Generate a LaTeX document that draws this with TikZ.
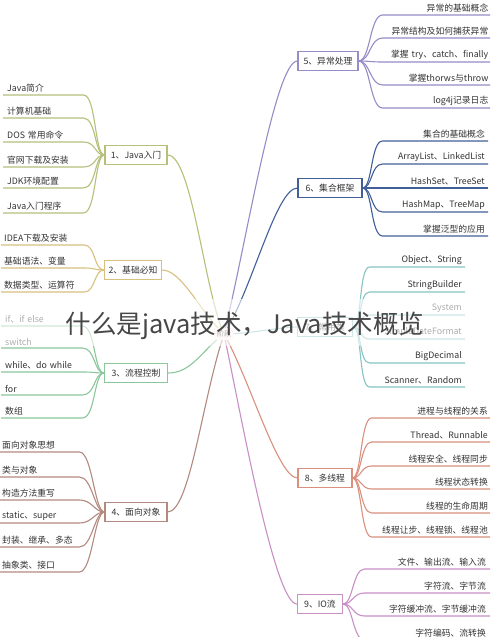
\documentclass[tikz,border=0pt]{standalone}
\usepackage{fontspec}
\setmainfont{Noto Sans CJK SC}
\definecolor{cA}{HTML}{B5C07A}
\definecolor{cB}{HTML}{D8C07E}
\definecolor{cC}{HTML}{8CC79B}
\definecolor{cD}{HTML}{B48A80}
\definecolor{cE}{HTML}{968CC8}
\definecolor{cF}{HTML}{41609A}
\definecolor{cG}{HTML}{88C4C4}
\definecolor{cH}{HTML}{D9907E}
\definecolor{cI}{HTML}{C890C4}
\definecolor{txt}{HTML}{333333}
\begin{document}
\begin{tikzpicture}[x=1pt,y=-1pt,
  every node/.style={font=\fontsize{8.8}{10}\selectfont, text=txt},
  mainbox/.style={draw, line width=1.2pt, fill=white, minimum height=19pt, inner xsep=4pt},
  leafL/.style={anchor=south west, align=left, inner xsep=4pt, inner ysep=2.5pt},
  leafR/.style={anchor=south east, align=right, inner xsep=4pt, inner ysep=2.5pt},
  br/.style={line width=1.1pt}]
\useasboundingbox (0,0) rectangle (490,637);
\fill[white] (0,0) rectangle (490,637);

\coordinate (hub) at (224,334);

% main nodes
\node[mainbox, draw=cA, minimum width=62pt] (n1) at (136,155) {1、Java入门};
\node[mainbox, draw=cB, minimum width=55pt] (n2) at (133,270) {2、基础必知};
\node[mainbox, draw=cC, minimum width=63pt] (n3) at (136,373) {3、流程控制};
\node[mainbox, draw=cD, minimum width=62pt] (n4) at (136,512) {4、面向对象};
\node[mainbox, draw=cE, minimum width=60pt] (n5) at (328,61) {5、异常处理};
\node[mainbox, draw=cF, minimum width=64pt] (n6) at (330,188) {6、集合框架};
\node[mainbox, draw=cG, minimum width=55pt] (n7) at (325,327) {7、常用类};
\node[mainbox, draw=cH, minimum width=54pt] (n8) at (325,478) {8、多线程};
\node[mainbox, draw=cI, minimum width=45pt] (n9) at (320,604) {9、IO流};

% hub connectors
\draw[br, cA] (n1.east) .. controls (192,155) and (204,290) .. (hub);
\draw[br, cB] (n2.east) .. controls (182,270) and (200,312) .. (hub);
\draw[br, cC] (n3.east) .. controls (192,373) and (202,350) .. (hub);
\draw[br, cD] (n4.east) .. controls (190,512) and (202,400) .. (hub);
\draw[br, cE] (n5.west) .. controls (275,61) and (245,250) .. (hub);
\draw[br, cF] (n6.west) .. controls (276,188) and (252,290) .. (hub);
\draw[br, cG] (n7.west) .. controls (280,327) and (250,334) .. (hub);
\draw[br, cH] (n8.west) .. controls (278,478) and (250,380) .. (hub);
\draw[br, cI] (n9.west) .. controls (275,604) and (242,420) .. (hub);

% group 1
\foreach \y/\t [count=\i] in {95/Java简介,118/计算机基础,142/DOS 常用命令,167/官网下载及安装,188/JDK环境配置,213/Java入门程序}{
  \node[leafL, text width=72pt] (a\i) at (3,\y) {\t};
  \draw[br, cA] (a\i.south west) -- (a\i.south east) .. controls +(13,0) and +(-10,0) .. (n1.west);
}
% group 2
\foreach \y/\t [count=\i] in {245/IDEA下载及安装,268/基础语法、变量,292/数据类型、运算符}{
  \node[leafL, text width=77pt, inner xsep=3pt] (b\i) at (1,\y) {\t};
  \draw[br, cB] (b\i.south west) -- (b\i.south east) .. controls +(11,0) and +(-10,0) .. (n2.west);
}
% group 3
\foreach \y/\t [count=\i] in {326/{if、if else},348/switch,372/{while、do while},395/for,418/数组}{
  \node[leafL, text width=73pt] (c\i) at (1,\y) {\t};
  \draw[br, cC] (c\i.south west) -- (c\i.south east) .. controls +(13,0) and +(-10,0) .. (n3.west);
}
% group 4
\foreach \y/\t [count=\i] in {452/面向对象思想,477/类与对象,500/构造方法重写,523/{static、super},547/封装、继承、多态,572/抽象类、接口}{
  \node[leafL, text width=75pt, inner xsep=2pt] (d\i) at (0,\y) {\t};
  \draw[br, cD] (d\i.south west) -- (d\i.south east) .. controls +(13,0) and +(-10,0) .. (n4.west);
}
% group 5
\foreach \y/\t [count=\i] in {15/异常的基础概念,38/异常结构及如何捕获异常,62/{掌握 try、catch、finally},85/掌握thorws与throw,108/log4j记录日志}{
  \node[leafR, text width=104pt, inner xsep=1.5pt] (e\i) at (490,\y) {\t};
  \draw[br, cE] (n5.east) .. controls +(12,0) and +(-13,0) .. (e\i.south west) -- (e\i.south east);
}
% group 6
\foreach \y/\t [count=\i] in {141/集合的基础概念,164/{ArrayList、LinkedList},188/{HashSet、TreeSet},212/{HashMap、TreeMap},236/掌握泛型的应用}{
  \node[leafR, text width=99pt, inner xsep=3pt] (f\i) at (488,\y) {\t};
  \draw[br, cF] (n6.east) .. controls +(10,0) and +(-12,0) .. (f\i.south west) -- (f\i.south east);
}
% group 7
\foreach \y/\t [count=\i] in {267/{Object、String},292/StringBuilder,315/System,339/SimpleDateFormat,363/BigDecimal,387/{Scanner、Random}}{
  \node[leafR, text width=89pt, inner xsep=3pt] (g\i) at (465,\y) {\t};
  \draw[br, cG] (n7.east) .. controls +(9,0) and +(-11,0) .. (g\i.south west) -- (g\i.south east);
}
% group 8
\foreach \y/\t [count=\i] in {418/进程与线程的关系,442/{Thread、Runnable},466/线程安全、线程同步,489/线程状态转换,513/线程的生命周期,537/线程让步、线程锁、线程池}{
  \node[leafR, text width=114pt, inner xsep=2pt] (h\i) at (490,\y) {\t};
  \draw[br, cH] (n8.east) .. controls +(9,0) and +(-11,0) .. (h\i.south west) -- (h\i.south east);
}
% group 9
\foreach \y/\t [count=\i] in {569/文件、输出流、输入流,593/字符流、字节流,616/字符缓冲流、字节缓冲流,640/字符编码、流转换}{
  \node[leafR, text width=117pt, inner xsep=4pt] (k\i) at (490,\y) {\t};
  \draw[br, cI] (n9.east) .. controls +(10,0) and +(-12,0) .. (k\i.south west) -- (k\i.south east);
}

% centre
\node[fill=red!6, inner sep=3pt, font=\fontsize{7}{8}\selectfont] (centre) at (hub) {阶段};

% fading band behind watermark
\fill[white, opacity=0.6] (0,299) rectangle (470,346);
\node[font=\fontsize{25.5}{26}\selectfont, text=black!72] (wm) at (245,326) {什么是java技术，Java技术概览};
\end{tikzpicture}
\end{document}
